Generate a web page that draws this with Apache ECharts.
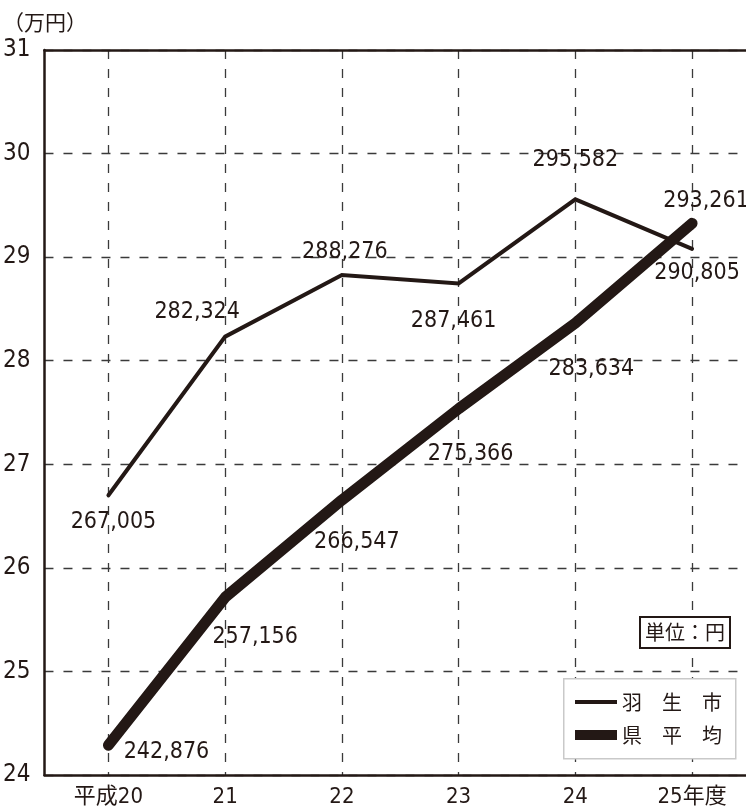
<!DOCTYPE html>
<html>
<head>
<meta charset="utf-8">
<script src="https://cdn.jsdelivr.net/npm/echarts@6/dist/echarts.min.js"></script>
<style>
html,body{margin:0;padding:0;background:#fff;}
#main{width:746px;height:811px;}
</style>
</head>
<body>
<div id="main"></div>
<script>
// ---- data ----
const categories = ['平成20', '21', '22', '23', '24', '25年度'];
const seriesNames = ['羽生市', '県平均'];
const hanyuValues = [267005, 282324, 288276, 287461, 295582, 290805];
const kenValues = [242876, 257156, 266547, 275366, 283634, 293261];
const yMin = 24, yMax = 31, yInterval = 1;
const unitText = '（万円）';
const noteText = '単位：円';

// ---- styling ----
const INK = '#231815';
const NUM_FONT = '"Liberation Sans Narrow", "DejaVu Sans Condensed", "Noto Sans CJK JP", sans-serif';
const CJK_FONT = '"Noto Sans CJK JP", sans-serif';
const hanyuOffsets = [[5, 27], [-28, -25], [3, -23], [-5, 38], [0, -39], [5, 24]];
const kenOffsets = [[58, 7], [30, 40], [15, 42], [12, 45], [16, 46], [14, -22]];

function fmt(v) { return String(v).replace(/\B(?=(\d{3})+(?!\d))/g, ','); }
function build(values) {
  return values.map((v, i) => [i, v / 10000]);
}
function layoutFor(offsets) {
  return function (params) {
    const o = offsets[params.dataIndex] || [0, 0];
    return { dx: o[0], dy: o[1], hideOverlap: false };
  };
}

const xMin = -0.548, xMax = 5.462;
const chart = echarts.init(document.getElementById('main'));
const labelCommon = {
  show: true, position: 'inside', color: INK,
  fontFamily: NUM_FONT, fontSize: 23
};
chart.setOption({
  animation: false,
  backgroundColor: '#fff',
  title: [
    { text: unitText, left: 3, top: 12, padding: 0,
      textStyle: { fontFamily: CJK_FONT, fontSize: 21, fontWeight: 'normal', color: INK } },
    { text: noteText, left: 640, top: 617, padding: [4, 5, 4, 5],
      borderColor: INK, borderWidth: 2, backgroundColor: '#fff',
      textStyle: { fontFamily: CJK_FONT, fontSize: 20, lineHeight: 23, fontWeight: 'normal', color: INK } }
  ],
  graphic: [{
    type: 'rect', left: 563, top: 678, z: 3,
    shape: { width: 172, height: 80 },
    style: { fill: '#fff', stroke: '#c9c9c9', lineWidth: 1.5 }
  }],
  legend: [
    { data: [seriesNames[0]], left: 575, top: 691, padding: 0, orient: 'vertical',
      icon: 'rect', itemWidth: 42, itemHeight: 4,
      formatter: n => n.split('').join('　'),
      textStyle: { fontFamily: CJK_FONT, fontSize: 20, lineHeight: 22, color: INK } },
    { data: [seriesNames[1]], left: 575, top: 724, padding: 0, orient: 'vertical',
      icon: 'rect', itemWidth: 42, itemHeight: 10,
      formatter: n => n.split('').join('　'),
      textStyle: { fontFamily: CJK_FONT, fontSize: 20, lineHeight: 22, color: INK } }
  ],
  grid: { left: 44, right: 0, top: 50, bottom: 36, containLabel: false },
  xAxis: [
    {
      type: 'value', min: xMin, max: xMax, splitNumber: 6,
      axisLine: { show: true, onZero: false, lineStyle: { color: INK, width: 2.5 } },
      axisTick: { show: false },
      axisLabel: {
        show: true, margin: 11, color: INK, fontFamily: NUM_FONT, fontSize: 22,
        showMinLabel: false, showMaxLabel: false,
        formatter: v => (Number.isInteger(v) && categories[v] !== undefined) ? categories[v] : ''
      },
      splitLine: { show: true, showMinLine: false, showMaxLine: false,
        lineStyle: { color: '#3a3a3a', width: 1.3, type: [9, 10] } }
    },
    {
      type: 'value', min: xMin, max: xMax, position: 'top',
      axisLine: { show: true, onZero: false, lineStyle: { color: INK, width: 2.5 } },
      axisTick: { show: false }, axisLabel: { show: false }, splitLine: { show: false }
    }
  ],
  yAxis: {
    type: 'value', min: yMin, max: yMax, interval: yInterval,
    axisLine: { show: true, onZero: false, lineStyle: { color: INK, width: 2.5 } },
    axisTick: { show: false },
    axisLabel: { color: INK, fontFamily: NUM_FONT, fontSize: 24, margin: 14 },
    splitLine: { show: true, lineStyle: { color: '#3a3a3a', width: 1.3, type: [9, 10] } }
  },
  series: [
    {
      name: seriesNames[0], type: 'line', xAxisIndex: 0,
      data: build(hanyuValues),
      symbol: 'circle', symbolSize: 1, showSymbol: true,
      itemStyle: { color: INK },
      lineStyle: { color: INK, width: 4, cap: 'round', join: 'miter' },
      label: Object.assign({}, labelCommon, { formatter: p => fmt(hanyuValues[p.dataIndex]) }),
      labelLayout: layoutFor(hanyuOffsets),
      z: 2
    },
    {
      name: seriesNames[1], type: 'line', xAxisIndex: 0,
      data: build(kenValues),
      symbol: 'circle', symbolSize: 1, showSymbol: true,
      itemStyle: { color: INK },
      lineStyle: { color: INK, width: 11, cap: 'round', join: 'round' },
      label: Object.assign({}, labelCommon, { formatter: p => fmt(kenValues[p.dataIndex]) }),
      labelLayout: layoutFor(kenOffsets),
      z: 3
    }
  ]
});
</script>
</body>
</html>
